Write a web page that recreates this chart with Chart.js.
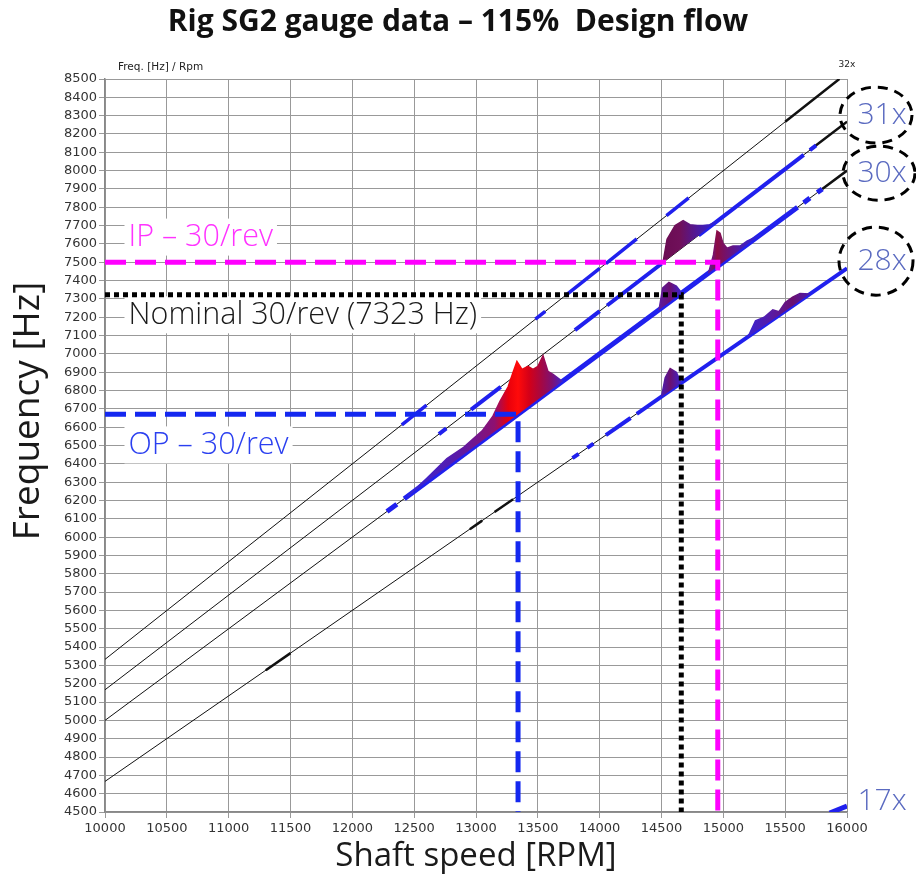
<!DOCTYPE html>
<html>
<head>
<meta charset="utf-8">
<title>Rig SG2 gauge data</title>
<script src="https://cdn.jsdelivr.net/npm/chart.js@4.4.1/dist/chart.umd.min.js"></script>
<style>
  html, body { margin: 0; padding: 0; background: #fff; }
  #wrap { width: 916px; height: 877px; }
</style>
</head>
<body>
<div id="wrap"><canvas id="campbell" width="916" height="877"></canvas></div>
<script>
// Axis limits
const rpmLimits = [10000, 16000];
const hzLimits = [4500, 8500];
const rpmStep = 500;
const hzStep = 100;

// Engine order lines (Hz at 10000 and 16000 rpm)
const orderRpm = [10000, 16000];
const order32Hz = [5333, 8533];
const order31Hz = [5167, 8267];
const order30Hz = [5000, 8000];
const order28Hz = [4667, 7467];

// Reference lines: IP, nominal, OP crossing of 30/rev
const ipRpm = [10000, 14955, 14955];
const ipHz = [7500, 7500, 4500];
const nomRpm = [10000, 14660, 14660];
const nomHz = [7323, 7323, 4500];
const opRpm = [10000, 13340, 13340];
const opHz = [6670, 6670, 4500];

// Measured response along the order lines, [rpm, Hz], null = gap
const trace32 = [[12400, 6613], [12600, 6720], null, [13480, 7189], [13560, 7232], null,
  [13720, 7317], [14000, 7467], null, [14050, 7493], [14300, 7627], null, [14540, 7755], [14720, 7851]];
const trace31 = [[12700, 6562], [12760, 6593], null, [12960, 6696], [13200, 6820], null,
  [13800, 7130], [14000, 7233], null, [14060, 7264], [14500, 7492], null,
  [14800, 7647], [15650, 8086], null, [15700, 8112], [15750, 8138]];
const trace30 = [[12280, 6140], [12360, 6180], null,
  [12420, 6210], [13700, 6850], null, [13700, 6850], [14950, 7475], null,
  [14950, 7475], [15600, 7800], null, [15650, 7825], [15700, 7850], null, [15760, 7880], [15800, 7900]];
const trace28 = [[13780, 6431], [13830, 6454], null, [13900, 6487], [13950, 6510], null,
  [14050, 6557], [14250, 6650], null, [14300, 6673], [14500, 6767], null, [14500, 6767], [16000, 7467]];
const trace17 = [[15860, 4494], [16000, 4533]];
const blackMarks = [[11300, 5273], [11500, 5367], null, [12950, 6043], [13050, 6090], null,
  [13150, 6137], [13300, 6207], null, [15700, 8112], [16000, 8267], null,
  [15800, 7900], [16000, 8000], null, [15500, 8267], [15938, 8500]];

// Resonance peaks (upper envelope, filled down to the order line)
const peak30Op = [[12450, 6225], [12600, 6320], [12765, 6429], [12900, 6490], [13050, 6580],
  [13137, 6660], [13194, 6741], [13260, 6820], [13300, 6900], [13331, 6959], [13372, 6915],
  [13420, 6932], [13461, 6915], [13501, 6932], [13542, 6990], [13582, 6904], [13623, 6888],
  [13679, 6860], [13700, 6850]];
const peak31 = [[14512, 7498], [14545, 7625], [14610, 7700], [14675, 7727], [14730, 7705],
  [14790, 7700], [14836, 7700], [14890, 7705], [14949, 7724]];
const peak30Mid = [[14480, 7240], [14510, 7360], [14560, 7390], [14620, 7370], [14660, 7335]];
const peak30Ip = [[14880, 7440], [14920, 7540], [14949, 7670], [14973, 7659], [14997, 7604],
  [15030, 7577], [15078, 7588], [15135, 7588], [15191, 7615], [15296, 7648]];
const peak28a = [[14500, 6767], [14530, 6870], [14570, 6920], [14620, 6900], [14660, 6841]];
const peak28b = [[15200, 7093], [15260, 7180], [15330, 7200], [15400, 7240], [15450, 7230],
  [15500, 7280], [15560, 7310], [15620, 7330], [15700, 7327]];

const pts = (xs, ys) => xs.map((x, i) => ({ x: x, y: ys[i] }));
const seg = list => list.map((p, i) => p === null ? { x: list[i - 1][0], y: null } : { x: p[0], y: p[1] });

// horizontal colour ramp in rpm units
function ramp(stops) {
  return ctx => {
    const chart = ctx.chart;
    const xs = chart.scales.x;
    if (!chart.chartArea || !xs) return stops[0][1];
    const x0 = xs.getPixelForValue(stops[0][0]);
    const x1 = xs.getPixelForValue(stops[stops.length - 1][0]);
    const g = chart.ctx.createLinearGradient(x0, 0, x1, 0);
    stops.forEach(s => g.addColorStop((xs.getPixelForValue(s[0]) - x0) / (x1 - x0), s[1]));
    return g;
  };
}

const BLUE = '#2020ee';

function orderLine(ys) {
  return { data: pts(orderRpm, ys), borderColor: '#111', borderWidth: 1, order: 20, fill: false };
}
function trace(list, width, color) {
  return { data: seg(list), borderColor: color || BLUE, borderWidth: width, order: 10, fill: false };
}
function peak(list, target, stops) {
  return { data: seg(list), borderColor: ramp(stops), backgroundColor: ramp(stops),
    borderWidth: 1.5, order: 5, fill: { target: target } };
}
function refLine(xs, ys, color, dash) {
  return { data: pts(xs, ys), borderColor: color, borderWidth: 5, borderDash: dash, order: 0, fill: false };
}

const datasets = [
  orderLine(order32Hz),  // 0
  orderLine(order31Hz),  // 1
  orderLine(order30Hz),  // 2
  orderLine(order28Hz),  // 3
  trace(trace32, 3.5),
  trace(trace31, 4),
  trace(trace30, 5),
  trace(trace28, 4),
  trace(trace17, 5),
  trace(blackMarks, 2.5, '#111'),
  peak(peak30Op, 2, [[12450, '#3426d8'], [12850, '#5a1aa8'], [13150, '#8e1070'], [13260, '#e8000c'],
    [13340, '#ff0a0a'], [13430, '#d40018'], [13530, '#a40844'], [13610, '#801070'], [13700, '#4422c8']]),
  peak(peak31, 1, [[14512, '#6a0c52'], [14650, '#70105a'], [14800, '#4c1aa0'], [14949, '#2a22e0']]),
  peak(peak30Mid, 2, [[14480, '#5a1aa0'], [14570, '#6c1070'], [14660, '#3a22d0']]),
  peak(peak30Ip, 2, [[14880, '#5a1aa0'], [14950, '#8c0c44'], [15000, '#7a1060'], [15150, '#4a1cb0'], [15296, '#2a22e0']]),
  peak(peak28a, 3, [[14500, '#4a1cb0'], [14570, '#6a1070'], [14660, '#3a22d0']]),
  peak(peak28b, 3, [[15200, '#3a22d0'], [15400, '#5a1aa0'], [15560, '#6a1070'], [15700, '#4a1cb0']]),
  refLine(ipRpm, ipHz, '#ff00ff', [21, 9]),
  refLine(nomRpm, nomHz, '#000', [5, 4]),
  refLine(opRpm, opHz, '#1428f0', [21, 9])
];

// text annotations drawn in data coordinates
const boxLabels = [
  { text: 'IP \u2013 30/rev', rpm: 10190, hz: 7640, color: '#ff33ff' },
  { text: 'Nominal 30/rev (7323 Hz)', rpm: 10190, hz: 7216, color: '#1a1a1a' },
  { text: 'OP \u2013 30/rev', rpm: 10190, hz: 6506, color: '#2a3ff0' }
];
const orderLabels = [
  { text: '31x', hz: 8303, ring: [36, 28, -3] },
  { text: '30x', hz: 7986, ring: [36, 27, 0] },
  { text: '28x', hz: 7506, ring: [37, 34, -3] },
  { text: '17x', hz: 4555, ring: null }
];

const annotations = {
  id: 'annotations',
  beforeDraw(chart) {
    const c = chart.ctx;
    c.save();
    c.fillStyle = '#fff';
    c.fillRect(0, 0, chart.width, chart.height);
    c.restore();
  },
  beforeDatasetsDraw(chart) {
    const c = chart.ctx, xs = chart.scales.x, ys = chart.scales.y;
    c.save();
    c.font = '300 30.5px "Open Sans"';
    c.textBaseline = 'middle';
    c.textAlign = 'left';
    boxLabels.forEach(l => {
      const x = xs.getPixelForValue(l.rpm), y = ys.getPixelForValue(l.hz);
      const w = c.measureText(l.text).width;
      c.fillStyle = '#fff';
      c.fillRect(x - 4, y - 18, w + 8, 37);
      c.fillStyle = l.color;
      c.fillText(l.text, x, y + 1);
    });
    c.restore();
  },
  afterDraw(chart) {
    const c = chart.ctx, ys = chart.scales.y, area = chart.chartArea;
    c.save();
    // y axis title
    c.fillStyle = '#1a1a1a';
    c.font = '400 37px "Open Sans"';
    c.textAlign = 'center';
    c.textBaseline = 'middle';
    c.translate(28, 411);
    c.rotate(-Math.PI / 2);
    c.fillText('Frequency [Hz]', 0, 0);
    c.restore();

    c.save();
    c.fillStyle = '#222';
    c.font = '10.5px "DejaVu Sans"';
    c.textBaseline = 'middle';
    c.fillText('Freq. [Hz] / Rpm', area.left + 13, area.top - 12);
    c.font = '9px "DejaVu Sans"';
    c.textAlign = 'center';
    c.fillText('32x', area.right, area.top - 14);

    orderLabels.forEach(l => {
      const y = ys.getPixelForValue(l.hz);
      const x = area.right + 35;
      c.fillStyle = '#5a6ac0';
      c.font = '300 30px "Open Sans"';
      c.textAlign = 'center';
      c.textBaseline = 'middle';
      c.fillText(l.text, x, y);
      if (l.ring) {
        c.beginPath();
        c.ellipse(x - 3 + l.ring[2], y, l.ring[0], l.ring[1], 0, 0, Math.PI * 2);
        c.strokeStyle = '#000';
        c.lineWidth = 3;
        c.setLineDash([10, 7]);
        c.stroke();
        c.setLineDash([]);
      }
    });
    c.restore();
  }
};

new Chart(document.getElementById('campbell'), {
  type: 'line',
  data: { datasets: datasets },
  options: {
    responsive: false,
    animation: false,
    devicePixelRatio: 1,
    layout: { padding: 0 },
    elements: {
      point: { radius: 0, hoverRadius: 0 },
      line: { tension: 0, borderCapStyle: 'butt', borderJoinStyle: 'miter' }
    },
    spanGaps: false,
    plugins: {
      legend: { display: false },
      tooltip: { enabled: false },
      title: {
        display: true,
        text: 'Rig SG2 gauge data \u2013 115%  Design flow',
        color: '#111',
        font: { family: '"Open Sans"', size: 30, weight: 'bold', lineHeight: 1.2 },
        padding: { top: 4, bottom: 39 }
      }
    },
    scales: {
      x: {
        type: 'linear',
        min: rpmLimits[0],
        max: rpmLimits[1],
        afterFit: s => { s.height = 65; },
        ticks: {
          stepSize: rpmStep,
          autoSkip: false,
          maxRotation: 0,
          padding: 3,
          color: '#333',
          font: { family: '"DejaVu Sans"', size: 13 },
          callback: v => String(v)
        },
        grid: { color: '#999', lineWidth: 1, tickLength: 6 },
        border: { color: '#888', width: 1.5 },
        title: {
          display: true,
          text: 'Shaft speed [RPM]',
          color: '#1a1a1a',
          font: { family: '"Open Sans"', size: 33, weight: '400', lineHeight: 1.2 },
          padding: { top: 0, bottom: 1 }
        }
      },
      y: {
        min: hzLimits[0],
        max: hzLimits[1],
        afterFit: s => { s.width = 105; },
        ticks: {
          stepSize: hzStep,
          autoSkip: false,
          padding: 2,
          color: '#333',
          font: { family: '"DejaVu Sans"', size: 13 },
          callback: v => String(v)
        },
        grid: { color: '#999', lineWidth: 1, tickLength: 6 },
        border: { color: '#888', width: 1.5 }
      },
      // empty right-hand strip that holds the order labels
      side: {
        position: 'right',
        afterFit: s => { s.width = 69; },
        ticks: { display: false },
        grid: { display: false, drawTicks: false },
        border: { display: false }
      }
    }
  },
  plugins: [annotations]
});
</script>
</body>
</html>
